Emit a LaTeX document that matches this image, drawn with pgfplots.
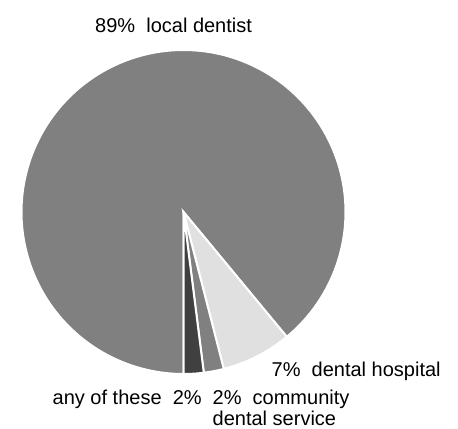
\documentclass[border=0pt]{standalone}
\usepackage{pgfplots}
\pgfplotsset{compat=1.18}
\usepackage{fontspec}
\setmainfont{Liberation Sans}
\definecolor{sliceDark}{HTML}{404040}
\definecolor{sliceMid}{HTML}{808080}
\definecolor{sliceLight}{HTML}{E0E0E0}
\definecolor{sliceBig}{HTML}{808080}
\tikzset{lbl/.style={anchor=base west, font=\fontsize{20bp}{22bp}\selectfont, inner sep=0pt, text=black}}
\begin{document}
\begin{tikzpicture}
% slice values (percent), in drawing order counterclockwise from 6 o'clock
\def\vA{2}  % any of these
\def\vB{2}  % community dental service
\def\vC{7}  % dental hospital
\def\vD{89} % local dentist
\pgfmathsetmacro\aA{270}
\pgfmathsetmacro\aB{\aA+3.6*\vA}
\pgfmathsetmacro\aC{\aB+3.6*\vB}
\pgfmathsetmacro\aD{\aC+3.6*\vC}
\pgfmathsetmacro\aE{\aD+3.6*\vD}
\def\cx{183.5}\def\cy{217}\def\R{162}
\begin{axis}[
  width=458bp, height=429bp, scale only axis,
  xmin=0, xmax=458, ymin=0, ymax=429,
  hide axis, clip=false,
]
\addplot[fill=sliceBig, draw=white, line width=2bp, domain=\aD:\aE, samples=200]
  ({\cx+\R*cos(x)},{\cy+\R*sin(x)}) -- (axis cs:\cx,\cy) -- cycle;
\addplot[fill=sliceLight, draw=white, line width=2bp, domain=\aC:\aD, samples=30]
  ({\cx+\R*cos(x)},{\cy+\R*sin(x)}) -- (axis cs:\cx,\cy) -- cycle;
\addplot[fill=sliceMid, draw=white, line width=2bp, domain=\aB:\aC, samples=15]
  ({\cx+\R*cos(x)},{\cy+\R*sin(x)}) -- (axis cs:\cx,\cy) -- cycle;
\addplot[fill=sliceDark, draw=white, line width=2bp, domain=\aA:\aB, samples=15]
  ({\cx+\R*cos(x)},{\cy+\R*sin(x)}) -- (axis cs:\cx,\cy) -- cycle;
\node[lbl] at (axis cs:95,396) {89\%\ \ local dentist};
\node[lbl] at (axis cs:271.5,52.5) {7\%\ \ dental hospital};
\node[lbl] at (axis cs:52.5,24) {any of these\ \ 2\%};
\node[lbl] at (axis cs:212.5,24) {2\%\ \ community};
\node[lbl] at (axis cs:212.5,3) {dental service};
\end{axis}
\path (current axis.south west) rectangle (current axis.north east);
\end{tikzpicture}
\end{document}
